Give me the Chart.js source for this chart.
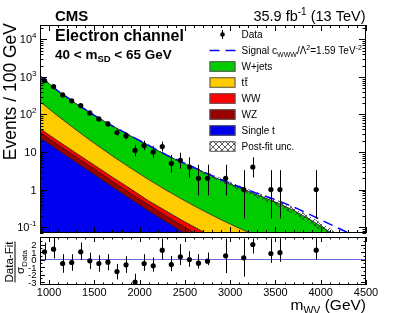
<!DOCTYPE html>
<html><head><meta charset="utf-8">
<script src="https://cdn.jsdelivr.net/npm/chart.js@4"></script>
<style>
html,body{margin:0;padding:0;background:#fff;}
#wrap{position:relative;width:407px;height:313px;background:#fff;}
canvas{position:absolute;left:0;top:0;}
</style></head><body>
<div id="wrap"><canvas id="main" width="407" height="313"></canvas><canvas id="ratio" width="407" height="313"></canvas></div>
<script>
// ---------------- data ----------------
const massGrid = [900,1100,1300,1500,1700,1900,2100,2300,2500,2700,2900,3100,3300,3500,3700,3900,4100,4300,4500];
const singleTBkg = [24.0,11.2,5.25,2.51,1.175,0.562,0.269,0.135,0.0676,0.0339,0.0170,0.0085,0.0043,0.0021,0.0011,0.00054,0.00027,0.00013,0.00007];
const wzBkg = [9.1,4.3,2.16,1.04,0.485,0.232,0.120,0.060,0.032,0.0174,0.0093,0.0050,0.0026,0.00145,0.00072,0.00039,0.00021,0.00012,0.00006];
const wwBkg = [8.6,4.0,1.92,0.92,0.48,0.253,0.112,0.068,0.038,0.0246,0.0154,0.0099,0.0063,0.0039,0.0024,0.0014,0.0008,0.0005,0.0003];
const ttBkg = [177,70.7,29.2,12.6,5.71,2.69,1.344,0.681,0.364,0.201,0.116,0.070,0.044,0.029,0.020,0.014,0.010,0.0078,0.0059];
const wjetsBkg = [828,327,154.3,77.3,41.65,23.2,13.1,7.19,4.40,2.67,1.62,1.029,0.667,0.431,0.258,0.1345,0.0642,0.0231,0.0037];
const signalWWW = [2,1,0.5,0.3,0.2,0.15,0.12,0.1,0.08,0.07,0.065,0.065,0.07,0.07,0.065,0.055,0.045,0.04,0.03];
const uncRel = [0.03,0.03,0.03,0.035,0.04,0.05,0.06,0.07,0.08,0.10,0.12,0.14,0.16,0.18,0.20,0.22,0.25,0.28,0.30];

const binCenters = [950,1050,1150,1250,1350,1450,1550,1650,1750,1850,1950,2050,2150,2250,2350,2450,2550,2650,2750,2950,3150,3250,3450,3550,3950];
const dataCounts = [795,550,330,230,172,110,76,56,33,27,11,15,10,14,5,6,4,2,2,2,1,4,1,1,1];
const dataErrLo = [27.7,23.0,17.7,14.7,12.6,10.0,8.2,7.0,5.7,5.2,3.3,3.8,3.1,3.7,2.2,2.4,1.9,1.3,1.3,1.3,0.83,1.9,0.83,0.83,0.83];
const dataErrHi = [28.7,24.0,18.7,15.7,13.6,11.0,9.2,8.0,6.8,6.2,4.4,5.0,4.3,4.8,3.4,3.6,3.2,2.6,2.6,2.6,2.3,3.2,2.3,2.3,2.3];

const pullVal = [1.02,1.38,-0.53,-0.4,1.02,-0.18,-0.53,-0.36,-1.6,-0.71,-3.0,-0.53,-0.84,1.24,-0.67,0.36,0,-0.49,-0.22,0.49,0.22,2.0,0.8,0.93,1.24];
const pullHi = [1.24,1.56,1.24,1.1,1.24,1.1,1.1,1.07,1.02,1.15,1.1,1.24,1.1,1.56,1.15,1.69,1.1,1.2,1.15,2.3,2.6,0.8,2.0,1.9,1.6];
const pullLo = [1.11,1.24,1.24,1.1,1.1,1.1,1.1,1.07,1.07,1.07,1.1,0.98,0.8,1.24,0.89,1.1,0.98,0.71,0.53,2.3,2.5,1.2,1.24,1.24,1.24];

const xTickVals = [1000,1500,2000,2500,3000,3500,4000,4500];
const xTickLabels = ['1000','1500','2000','2500','3000','3500','4000','4500'];
const yTickVals = [0.1,1,10,100,1000,10000];
const yTickLabels = ['10^-1','1','10','10^2','10^3','10^4'];
const pullTickVals = [-3,-2,-1,0,1,2];
const pullTickLabels = ['-3','-2','-1','0','1','2'];

const legendNames = ['Data','Signal','W+jets','tt','WW','WZ','Single t','Post-fit unc.'];
const colors = {wjets:'#00cc00', tt:'#ffcc00', ww:'#ff0000', wz:'#990000', st:'#0000f0', sig:'#0000ff'};

// ---------------- helpers ----------------
const FONT = '"Liberation Sans", Arial, Helvetica, sans-serif';
function fontOf(s){ return (s.bold?'bold ':'') + s.size + 'px ' + FONT; }
function richWidth(ctx, segs){ let w=0; for(const s of segs){ ctx.font=fontOf(s); w+=ctx.measureText(s.t).width; } return w; }
function drawRich(ctx, x, y, segs, align){
  const w = richWidth(ctx, segs);
  let cx = align==='right' ? x-w : (align==='center' ? x-w/2 : x);
  ctx.textAlign='left';
  for(const s of segs){ ctx.font=fontOf(s); ctx.fillText(s.t, cx, y+(s.dy||0)); cx += ctx.measureText(s.t).width; }
  return w;
}
function cum(arrs){ const out=[]; let acc=massGrid.map(()=>0); for(const a of arrs){ acc=acc.map((v,i)=>v+a[i]); out.push(acc.slice()); } return out; }
const [cST, cWZ, cWW, cTT, cWJ] = cum([singleTBkg, wzBkg, wwBkg, ttBkg, wjetsBkg]);
const sigLine = cWJ.map((v,i)=>v+signalWWW[i]);
const uncLo = cWJ.map((v,i)=>v*(1-uncRel[i]));
const uncHi = cWJ.map((v,i)=>v*(1+uncRel[i]));
const pts = arr => massGrid.map((m,i)=>({x:m, y:arr[i]}));

function makeHatch(ctx){
  const c=document.createElement('canvas'); c.width=6; c.height=6;
  const g=c.getContext('2d');
  g.strokeStyle='#333'; g.lineWidth=0.8;
  g.beginPath();
  g.moveTo(0,6); g.lineTo(6,0); g.moveTo(-1,1); g.lineTo(1,-1); g.moveTo(5,7); g.lineTo(7,5);
  g.moveTo(0,0); g.lineTo(6,6); g.moveTo(5,-1); g.lineTo(7,1); g.moveTo(-1,5); g.lineTo(1,7);
  g.stroke();
  return ctx.createPattern(c,'repeat');
}
const mainCtx = document.getElementById('main').getContext('2d');
const hatch = makeHatch(mainCtx);

function drawFrame(ctx, a){
  ctx.strokeStyle='#000'; ctx.lineWidth=1;
  ctx.strokeRect(a.left+0.5, a.top+0.5, a.right-a.left-1, a.bottom-a.top-1);
}
function xTicks(ctx, a, xs, major, minor){
  ctx.beginPath();
  for(let m=1000; m<=4500; m+=100){
    const px = Math.round(xs.getPixelForValue(m))+0.5;
    const L = (m%500===0)?major:minor;
    ctx.moveTo(px, a.bottom); ctx.lineTo(px, a.bottom-L);
    ctx.moveTo(px, a.top); ctx.lineTo(px, a.top+L);
  }
  ctx.stroke();
}

// ---------------- main chart ----------------
const mainPlugin = {
  id:'mainDecor',
  beforeDatasetDraw(chart, args){
    if(args.index!==8) return;
    const {ctx, chartArea:a, scales:{x,y}} = chart;
    ctx.save();
    ctx.beginPath(); ctx.rect(a.left,a.top,a.right-a.left,a.bottom-a.top); ctx.clip();
    ctx.strokeStyle='#000'; ctx.lineWidth=1;
    ctx.beginPath();
    binCenters.forEach((m,i)=>{
      const px=Math.round(x.getPixelForValue(m))+0.5;
      ctx.moveTo(px, y.getPixelForValue(dataCounts[i]+dataErrHi[i]));
      ctx.lineTo(px, y.getPixelForValue(Math.max(dataCounts[i]-dataErrLo[i],1e-3)));
    });
    ctx.stroke();
    ctx.restore();
  },
  afterDraw(chart){
    const {ctx, chartArea:a, scales:{x,y}} = chart;
    ctx.save();
    drawFrame(ctx,a);
    // y ticks (log)
    ctx.beginPath();
    for(let d=-2; d<=4; d++){
      for(let k=1;k<=9;k++){
        const v=k*Math.pow(10,d);
        if(v<y.min||v>y.max) continue;
        const py=Math.round(y.getPixelForValue(v))+0.5;
        const L=(k===1)?7:3.5;
        ctx.moveTo(a.left,py); ctx.lineTo(a.left+L,py);
        ctx.moveTo(a.right,py); ctx.lineTo(a.right-L,py);
      }
    }
    ctx.stroke();
    xTicks(ctx,a,x,6,3);
    // y tick labels
    ctx.fillStyle='#000'; ctx.textBaseline='alphabetic';
    yTickVals.forEach((v,i)=>{
      const py=y.getPixelForValue(v);
      const lab=yTickLabels[i];
      let segs;
      if(lab.includes('^')){ const [b,e]=lab.split('^'); segs=[{t:b,size:11},{t:e,size:8,dy:-5}]; }
      else segs=[{t:lab,size:11}];
      drawRich(ctx, 36.5, py+4, segs, 'right');
    });
    // y title
    ctx.save(); ctx.translate(15.5, 23); ctx.rotate(-Math.PI/2);
    drawRich(ctx, 0, 0, [{t:'Events / 100 GeV', size:17.5}], 'right');
    ctx.restore();
    // header texts
    drawRich(ctx, 55, 21, [{t:'CMS',size:15,bold:true}], 'left');
    drawRich(ctx, 365.5, 20.5, [{t:'35.9 fb',size:14.5},{t:'-1',size:10,dy:-5.5},{t:' (13 TeV)',size:14.5}], 'right');
    drawRich(ctx, 55, 41, [{t:'Electron channel',size:16,bold:true}], 'left');
    drawRich(ctx, 55, 58.5, [{t:'40 < m',size:13.5,bold:true},{t:'SD',size:9.5,bold:true,dy:3},{t:' < 65 GeV',size:13.5,bold:true}], 'left');
    // legend
    const bx=209.5, bw=26, tx=241.5;
    const rowY = i => 34.5 + 16*i;
    // Data
    ctx.strokeStyle='#000'; ctx.lineWidth=1;
    ctx.beginPath(); ctx.moveTo(222.5, rowY(0)-4.5); ctx.lineTo(222.5, rowY(0)+4.5); ctx.stroke();
    ctx.beginPath(); ctx.arc(222.5, rowY(0), 2.3, 0, Math.PI*2); ctx.fillStyle='#000'; ctx.fill();
    drawRich(ctx, tx, rowY(0)+3.6, [{t:legendNames[0],size:10}], 'left');
    // Signal
    ctx.save(); ctx.strokeStyle=colors.sig; ctx.lineWidth=1.5; ctx.setLineDash([10,6]);
    ctx.beginPath(); ctx.moveTo(bx, rowY(1)); ctx.lineTo(bx+bw, rowY(1)); ctx.stroke(); ctx.restore();
    drawRich(ctx, tx, rowY(1)+3.6, [{t:'Signal c',size:10},{t:'WWW',size:7,dy:2.5},{t:'/\u039B',size:10},{t:'2',size:7,dy:-4},{t:'=1.59 TeV',size:10},{t:'-2',size:7,dy:-4}], 'left');
    const boxes=[colors.wjets, colors.tt, colors.ww, colors.wz, colors.st, hatch];
    boxes.forEach((c,j)=>{
      const i=j+2, yy=rowY(i)-5.25;
      if(c===hatch){ ctx.fillStyle='#fff'; ctx.fillRect(bx,yy,bw,10.5); }
      ctx.fillStyle=c; ctx.fillRect(bx,yy,bw,10.5);
      ctx.strokeStyle='#555'; ctx.lineWidth=1; ctx.strokeRect(bx+0.5,yy+0.5,bw-1,10.5-1);
      ctx.fillStyle='#000';
      if(legendNames[i]==='tt'){
        ctx.font=fontOf({size:10});
        const w1=ctx.measureText('t').width;
        ctx.textAlign='left';
        ctx.fillText('t', tx, rowY(i)+3.6); ctx.fillText('t', tx+w1+0.5, rowY(i)+3.6);
        ctx.strokeStyle='#000'; ctx.lineWidth=0.8;
        ctx.beginPath(); ctx.moveTo(tx+w1+0.3, rowY(i)-4.5); ctx.lineTo(tx+2*w1+0.8, rowY(i)-4.5); ctx.stroke();
      } else {
        drawRich(ctx, tx, rowY(i)+3.6, [{t:legendNames[i],size:10}], 'left');
      }
    });
    ctx.restore();
  }
};

const stackDs = (label, arr, color, fill) => ({label, data: pts(arr), backgroundColor: color, borderColor:'#000', borderWidth:0.7, fill, pointRadius:0, order:0});

new Chart(mainCtx, {
  type:'line',
  data:{ datasets:[
    stackDs('Single t', cST, colors.st, 'start'),
    stackDs('WZ', cWZ, colors.wz, '-1'),
    stackDs('WW', cWW, colors.ww, '-1'),
    stackDs('tt', cTT, colors.tt, '-1'),
    stackDs('W+jets', cWJ, colors.wjets, '-1'),
    {label:'uncLo', data: pts(uncLo), borderWidth:0, pointRadius:0, fill:false, order:-1},
    {label:'uncHi', data: pts(uncHi), borderWidth:0, pointRadius:0, fill:'-1', backgroundColor:hatch, order:-1},
    {label:'Signal', data: pts(sigLine), borderColor:colors.sig, borderWidth:1.5, borderDash:[10,6], pointRadius:0, fill:false, order:-2},
    {label:'Data', data: binCenters.map((m,i)=>({x:m,y:dataCounts[i]})), showLine:false, pointRadius:2.6, pointBackgroundColor:'#000', pointBorderWidth:0, order:-3}
  ]},
  options:{
    responsive:false, animation:false, devicePixelRatio:1,
    layout:{padding:{left:40, right:41, top:25, bottom:80}},
    plugins:{legend:{display:false}, tooltip:{enabled:false}},
    scales:{
      x:{type:'linear', min:900, max:4500, display:false},
      y:{type:'logarithmic', min:0.07, max:24000, display:false}
    },
    elements:{line:{tension:0}}
  },
  plugins:[mainPlugin]
});

// ---------------- ratio chart ----------------
const ratioPlugin = {
  id:'ratioDecor',
  beforeDatasetDraw(chart, args){
    if(args.index!==1) return;
    const {ctx, chartArea:a, scales:{x,y}} = chart;
    ctx.save();
    ctx.beginPath(); ctx.rect(a.left,a.top,a.right-a.left,a.bottom-a.top); ctx.clip();
    ctx.strokeStyle='#000'; ctx.lineWidth=1;
    ctx.beginPath();
    binCenters.forEach((m,i)=>{
      const px=Math.round(x.getPixelForValue(m))+0.5;
      ctx.moveTo(px, y.getPixelForValue(pullVal[i]+pullHi[i]));
      ctx.lineTo(px, y.getPixelForValue(pullVal[i]-pullLo[i]));
    });
    ctx.stroke();
    ctx.restore();
  },
  afterDraw(chart){
    const {ctx, chartArea:a, scales:{x,y}} = chart;
    ctx.save();
    drawFrame(ctx,a);
    ctx.beginPath();
    for(let v=-3.5; v<=3.0001; v+=0.5){
      if(v<y.min||v>y.max) continue;
      const py=Math.round(y.getPixelForValue(v))+0.5;
      const L=(Math.abs(v-Math.round(v))<1e-6)?5:2.5;
      ctx.moveTo(a.left,py); ctx.lineTo(a.left+L,py);
      ctx.moveTo(a.right,py); ctx.lineTo(a.right-L,py);
    }
    ctx.stroke();
    xTicks(ctx,a,x,5,2.5);
    ctx.fillStyle='#000';
    xTickVals.forEach((v,i)=>{
      drawRich(ctx, x.getPixelForValue(v), 295.5, [{t:xTickLabels[i],size:11}], 'center');
    });
    pullTickVals.forEach((v,i)=>{
      drawRich(ctx, 36.5, y.getPixelForValue(v)+3.5, [{t:pullTickLabels[i],size:9.5}], 'right');
    });
    drawRich(ctx, 366, 310, [{t:'m',size:15.5},{t:'WV',size:10.5,dy:3.5},{t:' (GeV)',size:15.5}], 'right');
    // y title: fraction
    ctx.save(); ctx.translate(0, 262); ctx.rotate(-Math.PI/2);
    const w = drawRich(ctx, 0, 13, [{t:'Data-Fit',size:11.5}], 'center');
    ctx.strokeStyle='#000'; ctx.lineWidth=1;
    ctx.beginPath(); ctx.moveTo(-w/2, 15); ctx.lineTo(w/2, 15); ctx.stroke();
    drawRich(ctx, 0, 24, [{t:'\u03C3',size:11.5},{t:'Data',size:8,dy:2.5}], 'center');
    ctx.restore();
    ctx.restore();
  }
};

new Chart(document.getElementById('ratio').getContext('2d'), {
  type:'line',
  data:{ datasets:[
    {label:'zero', data:[{x:900,y:0},{x:4500,y:0}], borderColor:'#6a6ad8', borderWidth:1, pointRadius:0, fill:false, order:1},
    {label:'Pull', data: binCenters.map((m,i)=>({x:m,y:pullVal[i]})), showLine:false, pointRadius:2.6, pointBackgroundColor:'#000', pointBorderWidth:0, order:0}
  ]},
  options:{
    responsive:false, animation:false, devicePixelRatio:1,
    layout:{padding:{left:40, right:41, top:237, bottom:28}},
    plugins:{legend:{display:false}, tooltip:{enabled:false}},
    scales:{
      x:{type:'linear', min:900, max:4500, display:false},
      y:{type:'linear', min:-3.4, max:3.0, display:false}
    }
  },
  plugins:[ratioPlugin]
});
</script>
</body></html>
